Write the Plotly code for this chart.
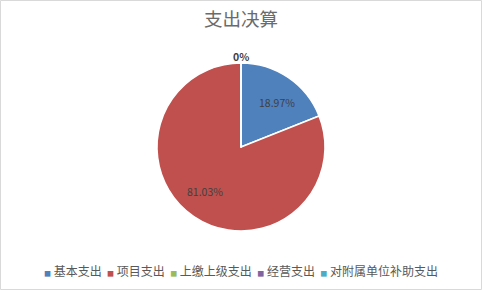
import math
import plotly.graph_objects as go

categories = ["基本支出", "项目支出", "上缴上级支出", "经营支出", "对附属单位补助支出"]
values = [18.97, 81.03, 0, 0, 0]
colors = ["#4F81BD", "#C0504D", "#9BBB59", "#8064A2", "#4BACC6"]

W, H = 482, 290
mt, mb = 63, 59
pw, ph = W, H - mt - mb
R = min(pw, ph) / 2.0
FONT = "Noto Sans CJK SC"

fig = go.Figure(go.Pie(
    labels=categories,
    values=values,
    sort=False,
    direction="clockwise",
    rotation=0,
    marker=dict(colors=colors, line=dict(color="white", width=1.5)),
    textinfo="none",
    hoverinfo="label+percent",
    showlegend=False,
))

# data labels computed from the values (Excel-like placement)
total = sum(values)
annotations = []
seen = set()
cum = 0.0
for v in values:
    a0 = cum / total * 360.0
    cum += v
    a1 = cum / total * 360.0
    mid = math.radians((a0 + a1) / 2.0)
    pct = v / total * 100.0
    if v > 0:
        r = 0.77 * R
        txt = f"{pct:.2f}%"
        weight = False
    else:
        r = R + 16
        txt = "0%"
        weight = True
    x = 0.5 + r * math.sin(mid) / pw
    y = 0.5 + r * math.cos(mid) / ph
    key = (txt, round(x, 4), round(y, 4))
    if key in seen:
        continue
    seen.add(key)
    annotations.append(dict(
        text=("<b>" + txt + "</b>") if weight else txt,
        x=x, y=y, xref="paper", yref="paper", showarrow=False,
        font=dict(size=10.5, color="#404040", family=FONT)))

# legend as one line of text (Excel-style compact legend)
nb = "\u00a0"
parts = []
for c, name in zip(colors, categories):
    parts.append(f"<span style='color:{c};font-size:7px'>■</span>{nb}{name}")
legend_text = (nb * 2).join(parts)
annotations.append(dict(
    text=legend_text, x=0.5, xanchor="center", y=-39 / ph, yanchor="middle",
    xref="paper", yref="paper", showarrow=False,
    font=dict(size=12, color="#595959", family=FONT)))

fig.update_layout(
    width=W, height=H,
    margin=dict(l=0, r=0, t=mt, b=mb),
    paper_bgcolor="white",
    plot_bgcolor="white",
    font=dict(family=FONT, color="#595959"),
    title=dict(text="支出决算", x=0.5, xanchor="center", y=1 - 20 / H, yanchor="middle",
               font=dict(size=18.5, color="#6B6B6B", family=FONT)),
    showlegend=False,
    annotations=annotations,
    shapes=[dict(type="rect", xref="paper", yref="paper", x0=0.5 / W, x1=1 - 0.5 / W,
                 y0=-(mb - 0.5) / ph, y1=1 + (mt - 0.5) / ph, line=dict(color="#D9D9D9", width=1))],
)

fig.write_html("out.html")
